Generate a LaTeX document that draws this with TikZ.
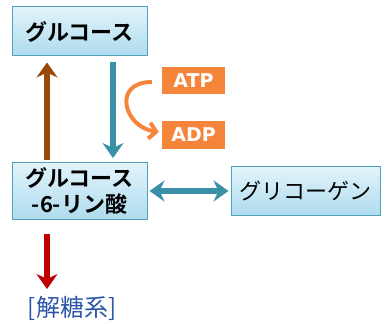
\documentclass[tikz,border=0pt]{standalone}
\usepackage{fontspec}
\setmainfont{Noto Sans CJK JP}[BoldFont={Noto Sans CJK JP Bold}]
\newfontfamily\latinbold{DejaVu Sans}
\usetikzlibrary{arrows.meta,calc}
\definecolor{boxtop}{HTML}{E2F4FB}
\definecolor{boxbot}{HTML}{AEDBEE}
\definecolor{boxline}{HTML}{4FA3BA}
\definecolor{tealc}{HTML}{3A90A6}
\definecolor{brownc}{HTML}{9A4708}
\definecolor{redc}{HTML}{C00000}
\definecolor{orangec}{HTML}{F5853A}
\definecolor{bluetxt}{HTML}{2B55A8}
\tikzset{
  bluebox/.style={draw=boxline,line width=1pt,top color=boxtop,bottom color=boxbot,inner sep=0pt,font=\fontsize{22}{26}\selectfont,align=center},
  tagbox/.style={fill=orangec,text=white,inner sep=0pt,minimum width=63pt,minimum height=27pt,font=\latinbold\bfseries\fontsize{19}{22}\selectfont},
  fatarrow/.style={line width=6pt,-{Stealth[length=15pt,width=21pt,inset=5pt]}},
  dblarrow/.style={line width=6pt,{Stealth[length=15pt,width=21pt,inset=5pt]}-{Stealth[length=15pt,width=21pt,inset=5pt]}},
}
\begin{document}
\begin{tikzpicture}[x=1pt,y=-1pt]
\useasboundingbox (0,0) rectangle (387,323);
\node[bluebox,minimum width=135pt,minimum height=49pt,font=\fontsize{22}{26}\selectfont\bfseries] (glc) at (79.5,31.5) {グルコース};
\node[bluebox,minimum width=135pt,minimum height=57pt,font=\fontsize{22}{26}\selectfont\bfseries] (g6p) at (79.5,191) {グルコース\\-6-リン酸};
\node[bluebox,minimum width=149pt,minimum height=49pt] (gly) at (305.5,191) {グリコーゲン};
\node[tagbox] (atp) at (193.5,80.5) {ATP};
\node[tagbox] (adp) at (193.5,135) {ADP};
\node[text=bluetxt,font=\fontsize{24}{28}\selectfont] (gly2) at (72,308) {[解糖系]};
\draw[fatarrow,brownc] ([xshift=-32.5pt,yshift=2.5pt]g6p.north) -- ([xshift=-32.5pt,yshift=-6pt]glc.south);
\draw[fatarrow,tealc] ([xshift=33.5pt,yshift=-6pt]glc.south) -- ([xshift=33.5pt,yshift=4pt]g6p.north);
\draw[dblarrow,tealc] ([xshift=2pt]g6p.east) -- ([xshift=-2pt]gly.west);
\draw[fatarrow,redc] ([xshift=-32.5pt,yshift=-13.5pt]g6p.south) -- ([xshift=-32.5pt,yshift=-69pt]g6p.south);
\draw[orangec,line width=4pt,-{Straight Barb[length=7pt,width=16pt,line width=4pt]}] ([xshift=-10pt,yshift=-1.5pt]atp.west) .. controls +(-40,0) and +(-35,-5) .. ([xshift=-3pt,yshift=3pt]adp.west);
\end{tikzpicture}
\end{document}
